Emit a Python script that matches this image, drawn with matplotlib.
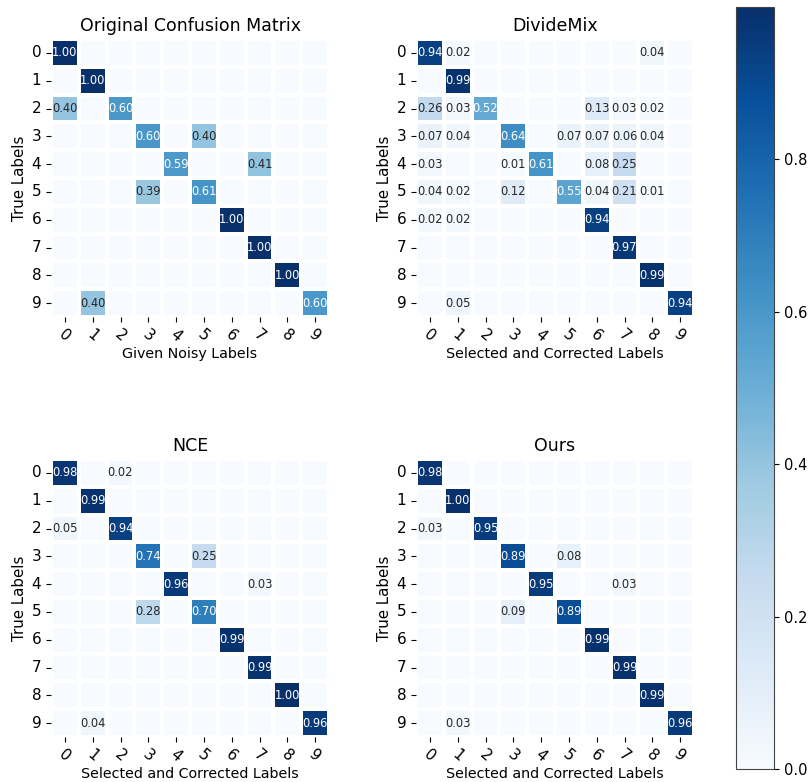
import numpy as np
import matplotlib
matplotlib.use("Agg")
import matplotlib.pyplot as plt
import seaborn as sns
from matplotlib.cm import ScalarMappable
from matplotlib.colors import Normalize

class_labels = [str(i) for i in range(10)]
titles = ["Original Confusion Matrix", "DivideMix", "NCE", "Ours"]
xlabels = ["Given Noisy Labels", "Selected and Corrected Labels",
           "Selected and Corrected Labels", "Selected and Corrected Labels"]

original = np.array([
    [1.00, 0, 0, 0, 0, 0, 0, 0, 0, 0],
    [0, 1.00, 0, 0, 0, 0, 0, 0, 0, 0],
    [0.40, 0, 0.60, 0, 0, 0, 0, 0, 0, 0],
    [0, 0, 0, 0.60, 0, 0.40, 0, 0, 0, 0],
    [0, 0, 0, 0, 0.59, 0, 0, 0.41, 0, 0],
    [0, 0, 0, 0.39, 0, 0.61, 0, 0, 0, 0],
    [0, 0, 0, 0, 0, 0, 1.00, 0, 0, 0],
    [0, 0, 0, 0, 0, 0, 0, 1.00, 0, 0],
    [0, 0, 0, 0, 0, 0, 0, 0, 1.00, 0],
    [0, 0.40, 0, 0, 0, 0, 0, 0, 0, 0.60],
])

dividemix = np.array([
    [0.94, 0.02, 0, 0, 0, 0, 0, 0, 0.04, 0],
    [0, 0.99, 0, 0, 0, 0, 0, 0, 0, 0],
    [0.26, 0.03, 0.52, 0, 0, 0, 0.13, 0.03, 0.02, 0],
    [0.07, 0.04, 0, 0.64, 0, 0.07, 0.07, 0.06, 0.04, 0],
    [0.03, 0, 0, 0.01, 0.61, 0, 0.08, 0.25, 0, 0],
    [0.04, 0.02, 0, 0.12, 0, 0.55, 0.04, 0.21, 0.01, 0],
    [0.02, 0.02, 0, 0, 0, 0, 0.94, 0, 0, 0],
    [0, 0, 0, 0, 0, 0, 0, 0.97, 0, 0],
    [0, 0, 0, 0, 0, 0, 0, 0, 0.99, 0],
    [0, 0.05, 0, 0, 0, 0, 0, 0, 0, 0.94],
])

nce = np.array([
    [0.98, 0, 0.02, 0, 0, 0, 0, 0, 0, 0],
    [0, 0.99, 0, 0, 0, 0, 0, 0, 0, 0],
    [0.05, 0, 0.94, 0, 0, 0, 0, 0, 0, 0],
    [0, 0, 0, 0.74, 0, 0.25, 0, 0, 0, 0],
    [0, 0, 0, 0, 0.96, 0, 0, 0.03, 0, 0],
    [0, 0, 0, 0.28, 0, 0.70, 0, 0, 0, 0],
    [0, 0, 0, 0, 0, 0, 0.99, 0, 0, 0],
    [0, 0, 0, 0, 0, 0, 0, 0.99, 0, 0],
    [0, 0, 0, 0, 0, 0, 0, 0, 1.00, 0],
    [0, 0.04, 0, 0, 0, 0, 0, 0, 0, 0.96],
])

ours = np.array([
    [0.98, 0, 0, 0, 0, 0, 0, 0, 0, 0],
    [0, 1.00, 0, 0, 0, 0, 0, 0, 0, 0],
    [0.03, 0, 0.95, 0, 0, 0, 0, 0, 0, 0],
    [0, 0, 0, 0.89, 0, 0.08, 0, 0, 0, 0],
    [0, 0, 0, 0, 0.95, 0, 0, 0.03, 0, 0],
    [0, 0, 0, 0.09, 0, 0.89, 0, 0, 0, 0],
    [0, 0, 0, 0, 0, 0, 0.99, 0, 0, 0],
    [0, 0, 0, 0, 0, 0, 0, 0.99, 0, 0],
    [0, 0, 0, 0, 0, 0, 0, 0, 0.99, 0],
    [0, 0.03, 0, 0, 0, 0, 0, 0, 0, 0.96],
])

matrices = [original, dividemix, nce, ours]

W, H = 808, 782
fig = plt.figure(figsize=(W / 100, H / 100), dpi=100)

# pixel boxes (left, top, right, bottom)
boxes = [(51, 39, 329, 317), (416, 39, 694, 317),
         (51, 459, 329, 737), (416, 459, 694, 737)]

for mat, title, xl, (l, t, r, b) in zip(matrices, titles, xlabels, boxes):
    ax = fig.add_axes([l / W, (H - b) / H, (r - l) / W, (b - t) / H])
    annot = np.where(mat > 0, np.vectorize(lambda v: f"{v:.2f}")(mat), "")
    sns.heatmap(mat, ax=ax, cmap="Blues", vmin=0, vmax=1, cbar=False,
                annot=annot, fmt="", annot_kws={"fontsize": 8.3},
                linewidths=1.6, linecolor="white",
                xticklabels=class_labels, yticklabels=class_labels)
    ax.set_title(title, fontsize=12.5)
    ax.set_xlabel(xl, fontsize=10.3, labelpad=2)
    ax.set_ylabel("True Labels", fontsize=10.8, labelpad=3)
    ax.tick_params(axis="y", labelsize=11, rotation=0)
    ax.tick_params(axis="x", labelsize=11)
    plt.setp(ax.get_xticklabels(), rotation=-40, ha="center")

cax = fig.add_axes([736 / W, (H - 769) / H, 38 / W, 762 / H])
sm = ScalarMappable(norm=Normalize(0, 1), cmap="Blues")
cb = fig.colorbar(sm, cax=cax, ticks=[0, 0.2, 0.4, 0.6, 0.8])
cb.ax.tick_params(labelsize=10.5)
cb.outline.set_edgecolor("#444444")

fig.savefig("out.png", dpi=100)
